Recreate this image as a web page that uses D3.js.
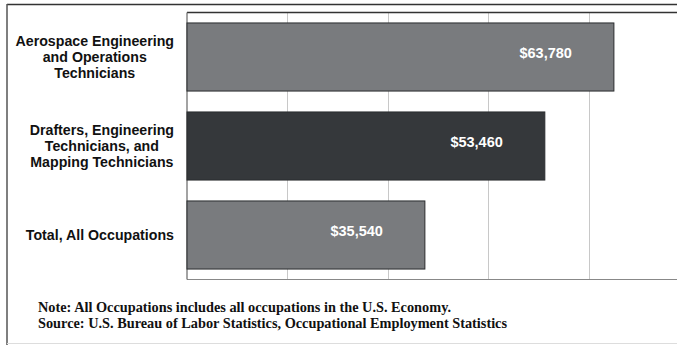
<!DOCTYPE html>
<html><head><meta charset="utf-8">
<script src="https://cdn.jsdelivr.net/npm/d3@7"></script>
<style>html,body{margin:0;padding:0;background:#fff;overflow:hidden}</style>
</head><body>
<svg id="c" width="677" height="345"></svg>
<script>
const categories = [
  ["Aerospace Engineering","and Operations","Technicians"],
  ["Drafters, Engineering","Technicians, and","Mapping Technicians"],
  ["Total, All Occupations"]
];
const values = [63780, 53460, 35540];
const valueLabels = ["$63,780", "$53,460", "$35,540"];
const barColors = ["#797b7e", "#35383b", "#797b7e"];
const gridTicks = [15000, 30000, 45000, 60000];
const notes = [
  "Note: All Occupations includes all occupations in the U.S. Economy.",
  "Source: U.S. Bureau of Labor Statistics, Occupational Employment Statistics"
];

const svg = d3.select("#c");
const pLeft = 187, pTop = 12.5, pBottom = 279.5;
const x = d3.scaleLinear().domain([0, 75000]).range([pLeft, pLeft + 502]);
const y = d3.scaleBand().domain(d3.range(values.length)).range([pTop, pBottom]).paddingInner(0.235).paddingOuter(0.1175);

// outer frame
svg.append("line").attr("x1",7).attr("x2",677).attr("y1",4.5).attr("y2",4.5).attr("stroke","#333").attr("stroke-width",1.5);
svg.append("line").attr("x1",7).attr("x2",7).attr("y1",4).attr("y2",345).attr("stroke","#555").attr("stroke-width",1.5);
svg.append("line").attr("x1",7).attr("x2",677).attr("y1",343.5).attr("y2",343.5).attr("stroke","#ddd").attr("stroke-width",1);

// gridlines
svg.append("g").selectAll("line").data(gridTicks).join("line")
  .attr("x1", d => Math.round(x(d)) + 0.5).attr("x2", d => Math.round(x(d)) + 0.5)
  .attr("y1", pTop).attr("y2", pBottom).attr("stroke", "#c8c8c8").attr("stroke-width", 1);

// plot frame
svg.append("line").attr("x1",pLeft).attr("x2",677).attr("y1",pTop).attr("y2",pTop).attr("stroke","#333").attr("stroke-width",1.5);
svg.append("line").attr("x1",pLeft).attr("x2",677).attr("y1",pBottom).attr("y2",pBottom).attr("stroke","#888").attr("stroke-width",1.2);
svg.append("line").attr("x1",pLeft).attr("x2",pLeft).attr("y1",pTop).attr("y2",pBottom).attr("stroke","#666").attr("stroke-width",1.2);

// bars
svg.append("g").selectAll("rect").data(values).join("rect")
  .attr("x", x(0)).attr("y", (d,i) => y(i))
  .attr("width", d => x(d) - x(0)).attr("height", y.bandwidth())
  .attr("fill", (d,i) => barColors[i]).attr("stroke", "#2a2c2e").attr("stroke-width", 1);

// value labels
svg.append("g").selectAll("text").data(values).join("text")
  .attr("x", d => x(d) - 42).attr("y", (d,i) => y(i) + y.bandwidth()/2 - 4)
  .attr("dy", "0.35em").attr("text-anchor", "end")
  .attr("font-family", "'Liberation Sans', Arial, sans-serif").attr("font-weight", "bold")
  .attr("font-size", 14.5).attr("fill", "#fff")
  .text((d,i) => valueLabels[i]);

// category labels
const catFont = 14.2, lh = 15.8, rightEdge = 174;
categories.forEach((lines, i) => {
  const g = svg.append("g");
  const cy = y(i) + y.bandwidth()/2;
  const texts = lines.map((t, j) => g.append("text")
    .attr("y", cy + (j - (lines.length - 1)/2) * lh)
    .attr("dy", "0.35em").attr("text-anchor", "middle")
    .attr("font-family", "'Liberation Sans', Arial, sans-serif").attr("font-weight", "bold")
    .attr("font-size", catFont).attr("fill", "#111").text(t));
  const maxW = d3.max(texts, t => t.node().getComputedTextLength());
  texts.forEach(t => t.attr("x", rightEdge - maxW/2));
});

// notes
svg.append("g").selectAll("text").data(notes).join("text")
  .attr("x", 38).attr("y", (d,i) => 311.5 + i*16.5)
  .attr("font-family", "'Liberation Serif', 'Times New Roman', serif").attr("font-weight", "bold")
  .attr("font-size", 14.3).attr("fill", "#111").text(d => d);
</script>
</body></html>
